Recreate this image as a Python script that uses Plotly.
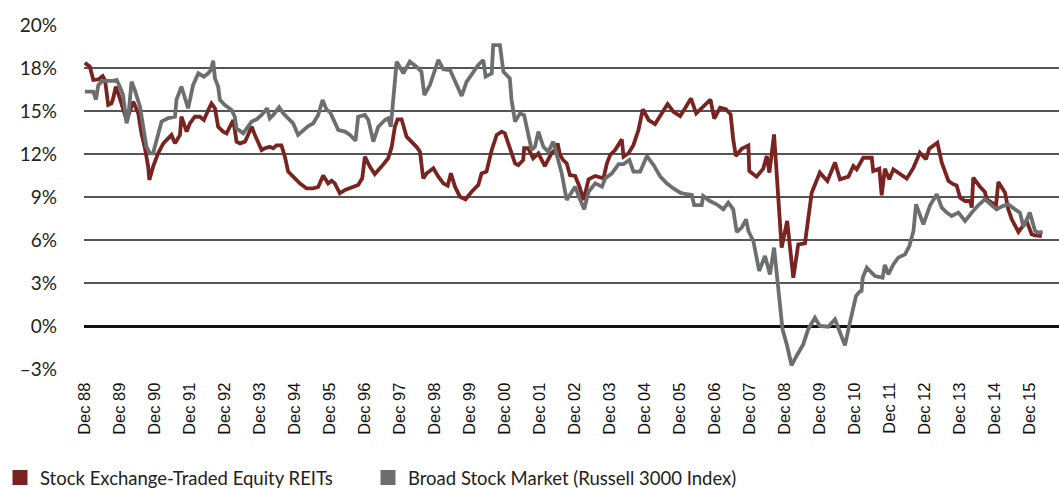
import plotly.graph_objects as go

# months since Dec 1988, and yield values (%)
reit_month = [0.0, 1.7, 2.9, 4.6, 6.1, 6.9, 8.0, 9.1, 9.7, 10.6, 11.8, 12.6, 14.3, 16.6, 18.3, 19.4, 20.6, 21.7, 22.1,
              23.4, 25.1, 26.9, 28.6, 29.7, 30.9, 32.6, 33.1, 34.9, 36.0, 37.7, 39.4, 40.8, 42.3, 43.4, 44.6, 45.7,
              47.4, 48.6, 49.7, 50.9, 52.0, 53.2, 54.9, 56.0, 57.2, 58.3, 60.6, 61.7, 63.4, 64.6, 65.7, 67.4, 68.6,
              69.7, 71.4, 73.7, 76.0, 78.3, 80.0, 81.7, 83.4, 84.6, 85.7, 87.4, 89.2, 91.4, 93.7, 95.1, 96.0, 97.7,
              99.4, 101.7, 104.0, 105.2, 106.3, 107.2, 108.6, 110.3, 112.0, 113.7, 114.9, 116.0, 117.2, 119.5, 121.2,
              122.9, 124.4, 125.5, 126.9, 128.6, 130.5, 132.6, 134.9, 136.0, 137.7, 139.5, 141.2, 142.9, 144.0, 145.7,
              147.5, 148.6, 150.3, 150.6, 152.0, 153.7, 155.5, 157.7, 160.0, 161.2, 162.1, 162.9, 164.0, 165.2, 166.3,
              168.1, 169.6, 171.0, 172.7, 175.0, 177.8, 179.0, 180.1, 181.8, 184.1, 184.7, 186.4, 188.1, 189.8, 191.3,
              193.3, 195.5, 197.5, 199.8, 201.8, 204.1, 205.8, 207.8, 209.6, 211.6, 213.0, 214.5, 215.8, 217.8, 219.8,
              221.4, 222.3, 223.2, 225.2, 227.5, 227.8, 230.3, 232.6, 233.8, 234.7, 236.3, 238.9, 240.8, 242.9, 244.6,
              246.9, 248.0, 249.2, 252.0, 254.6, 257.2, 258.9, 261.8, 263.5, 264.6, 266.9, 269.8, 270.3, 272.4, 273.2,
              274.3, 275.8, 277.2, 279.5, 281.8, 284.1, 286.3, 288.4, 289.5, 292.3, 293.8, 296.1, 297.8, 298.9, 300.1,
              301.8, 303.5, 304.1, 304.6, 306.9, 308.6, 309.2, 310.9, 312.4, 313.2, 315.5, 316.6, 317.8, 320.1, 321.2,
              322.9, 324.6, 325.8, 328.1]
reit_yield = [18.37, 18.09, 17.16, 17.2, 17.44, 17.16, 15.42, 15.53, 15.88, 16.7, 16.0, 15.53, 14.37, 15.65, 14.84,
              13.44, 12.4, 11.12, 10.19, 11.12, 12.05, 12.74, 13.09, 13.33, 12.74, 13.33, 14.6, 13.56, 14.14, 14.6,
              14.6, 14.37, 15.07, 15.53, 15.19, 13.9, 13.56, 13.44, 13.9, 14.37, 12.86, 12.74, 12.86, 13.44, 13.9,
              13.33, 12.28, 12.4, 12.5, 12.4, 12.6, 12.6, 11.8, 10.77, 10.4, 9.95, 9.6, 9.6, 9.7, 10.5, 9.95, 10.14,
              9.95, 9.26, 9.49, 9.67, 9.84, 10.3, 11.81, 11.12, 10.6, 11.12, 11.7, 12.5, 13.9, 14.42, 14.42, 13.21,
              12.86, 12.5, 12.16, 10.3, 10.65, 11.0, 10.42, 9.95, 9.79, 10.65, 9.72, 9.02, 8.84, 9.37, 9.84, 10.65,
              10.77, 12.28, 13.33, 13.56, 13.44, 12.4, 11.35, 11.23, 11.58, 12.4, 12.4, 11.7, 12.05, 11.16, 12.05,
              12.28, 12.74, 11.93, 11.58, 11.35, 10.53, 10.47, 9.72, 8.79, 10.23, 10.47, 10.3, 11.35, 11.93, 12.28,
              13.02, 11.81, 12.05, 12.63, 13.67, 15.12, 14.37, 14.09, 14.72, 15.49, 14.95, 14.65, 15.19, 15.88, 14.84,
              15.26, 15.55, 15.8, 14.47, 15.23, 15.12, 14.77, 13.02, 11.86, 12.37, 12.6, 10.81, 10.42, 10.98, 11.86,
              10.7, 13.37, 5.47, 7.33, 3.37, 5.7, 5.77, 7.67, 9.3, 10.7, 10.12, 11.4, 10.23, 10.42, 11.16, 10.93,
              11.74, 11.74, 10.81, 10.98, 9.12, 10.98, 10.23, 10.93, 10.58, 10.28, 11.05, 12.09, 11.63, 12.37, 12.79,
              11.4, 10.12, 9.88, 9.81, 8.95, 8.72, 8.72, 8.26, 10.35, 9.72, 9.35, 8.84, 8.65, 8.42, 10.05, 9.3, 8.14,
              7.44, 6.56, 6.86, 7.33, 6.4, 6.33, 6.28]

russell_month = [0.0, 2.9, 3.8, 4.6, 5.7, 7.4, 9.7, 10.9, 12.0, 13.1, 14.3, 14.9, 16.0, 17.1, 18.9, 20.0, 21.1, 22.3,
                 23.4, 24.6, 26.3, 28.6, 30.9, 31.4, 33.1, 35.4, 37.1, 38.9, 40.8, 42.3, 43.2, 44.0, 44.6, 45.7, 46.3,
                 48.0, 50.3, 51.4, 52.0, 54.3, 55.4, 57.2, 58.9, 60.6, 62.5, 63.4, 64.6, 66.6, 68.0, 69.7, 71.4, 73.1,
                 74.9, 76.6, 78.3, 80.0, 81.5, 82.9, 84.0, 86.9, 89.2, 90.9, 92.8, 93.7, 96.0, 97.2, 98.9, 100.6, 102.9,
                 104.0, 104.9, 105.7, 106.9, 109.2, 111.4, 113.7, 115.4, 116.4, 118.3, 121.2, 122.9, 125.2, 126.9,
                 129.2, 130.9, 133.2, 134.9, 136.6, 137.4, 139.5, 140.0, 142.3, 143.5, 145.7, 146.3, 147.5, 149.2,
                 150.6, 152.0, 153.2, 154.3, 155.5, 157.2, 158.9, 160.6, 161.7, 163.5, 165.2, 166.9, 168.1, 169.6,
                 171.2, 172.7, 175.0, 177.3, 178.4, 180.7, 183.0, 184.7, 186.7, 188.1, 190.4, 192.7, 195.0, 197.3,
                 199.5, 201.8, 204.1, 205.8, 208.1, 208.9, 211.5, 212.0, 214.3, 216.6, 218.9, 220.6, 222.3, 223.5,
                 225.2, 226.7, 227.5, 229.2, 231.2, 233.2, 234.9, 236.3, 237.8, 239.2, 240.8, 242.3, 244.0, 246.3,
                 248.0, 250.3, 252.0, 254.9, 257.2, 258.9, 260.6, 262.3, 264.4, 265.5, 266.3, 266.7, 268.1, 270.9,
                 273.5, 274.3, 275.5, 277.2, 278.9, 281.2, 282.7, 284.1, 285.0, 287.5, 289.8, 292.1, 293.8, 295.5,
                 297.2, 299.5, 301.8, 304.1, 306.3, 308.6, 310.9, 312.6, 314.3, 316.6, 318.9, 320.6, 321.8, 324.0,
                 325.8, 326.9, 328.4]
russell_yield = [16.35, 16.35, 15.8, 16.8, 17.05, 17.1, 17.1, 17.16, 16.7, 16.1, 14.14, 14.6, 17.05, 16.47, 15.3,
                 13.67, 12.5, 12.05, 12.05, 12.98, 14.26, 14.5, 14.6, 15.77, 16.7, 15.19, 16.8, 17.63, 17.4, 17.63,
                 17.86, 18.51, 17.28, 16.7, 15.77, 15.42, 15.07, 14.6, 13.79, 13.44, 13.79, 14.26, 14.42, 14.72, 15.19,
                 14.49, 14.72, 15.26, 14.84, 14.49, 14.14, 13.33, 13.67, 13.95, 14.14, 14.72, 15.77, 15.07, 14.95,
                 13.67, 13.56, 13.33, 12.93, 14.6, 14.72, 14.37, 12.86, 13.9, 14.37, 14.49, 13.9, 15.65, 18.44, 17.63,
                 18.44, 18.09, 17.74, 16.12, 16.81, 18.56, 17.91, 17.86, 17.05, 16.05, 17.05, 17.74, 18.21, 18.56,
                 17.4, 17.63, 19.6, 19.6, 17.74, 17.28, 15.77, 14.26, 14.84, 14.72, 13.44, 12.28, 12.5, 13.56, 12.5,
                 12.16, 12.86, 12.05, 10.65, 8.79, 9.37, 9.72, 8.91, 8.14, 9.37, 9.95, 9.72, 10.3, 10.65, 11.3, 11.3,
                 11.58, 10.77, 10.77, 11.86, 11.23, 10.42, 9.95, 9.6, 9.3, 9.21, 9.14, 8.44, 8.44, 9.07, 8.72, 8.49,
                 8.14, 8.6, 8.14, 6.56, 6.86, 7.44, 6.63, 5.93, 3.84, 4.88, 3.6, 5.47, 2.79, -0.23, -1.4, -2.74,
                 -2.09, -1.28, -0.23, 0.58, 0.0, -0.05, 0.47, -0.47, -1.35, 0.23, 2.09, 2.37, 2.44, 3.37, 4.07, 3.49,
                 3.37, 4.26, 3.6, 4.3, 4.77, 5.0, 5.58, 6.63, 8.49, 7.09, 8.42, 9.19, 8.26, 7.91, 7.67, 7.91, 7.33,
                 7.91, 8.42, 8.84, 8.42, 8.14, 8.33, 8.49, 8.14, 7.91, 6.93, 7.91, 6.63, 6.51, 6.56]

series_names = ["Stock Exchange-Traded Equity REITs", "Broad Stock Market (Russell 3000 Index)"]
series_colors = ["#7A2421", "#6D6E6E"]

tick_years = list(range(1988, 2016))
tick_months = [12 * (y - 1988) for y in tick_years]
tick_labels = [f"Dec {y % 100:02d}" for y in tick_years]

y_tickvals = [-3, 0, 3, 6, 9, 12, 15, 18, 21]
y_ticktext = ["\u20133%", "0%", "3%", "6%", "9%", "12%", "15%", "18%", "20%"]

fig = go.Figure()
fig.add_trace(go.Scatter(x=reit_month, y=reit_yield, mode="lines", showlegend=False,
                         line=dict(color=series_colors[0], width=3.8), name=series_names[0]))
fig.add_trace(go.Scatter(x=russell_month, y=russell_yield, mode="lines", showlegend=False,
                         line=dict(color=series_colors[1], width=3.8), name=series_names[1]))
for name, color in zip(series_names, series_colors):
    fig.add_trace(go.Scatter(x=[None], y=[None], mode="markers", name=name,
                             marker=dict(symbol="square", size=15, color=color)))

fig.update_layout(
    width=1059, height=490,
    margin=dict(l=84, r=0, t=25, b=121, autoexpand=False),
    plot_bgcolor="white", paper_bgcolor="white",
    legend=dict(orientation="h", xref="container", yref="container", x=0.0, y=1 - 459 / 490,
                xanchor="left", yanchor="top", font=dict(family="Lato", size=18.5, color="#222"),
                entrywidth=323, itemsizing="trace", bgcolor="rgba(0,0,0,0)"),
)
fig.update_xaxes(range=[-0.3, 334], tickmode="array", tickvals=tick_months, ticktext=tick_labels,
                 tickangle=-90, tickfont=dict(family="Liberation Sans", size=16.5, color="#111"),
                 showgrid=False, zeroline=False, showline=False, ticks="outside", ticklen=6,
                 tickcolor="rgba(0,0,0,0)", automargin=False)
fig.update_yaxes(range=[-3, 21], tickmode="array", tickvals=y_tickvals, ticktext=y_ticktext,
                 tickfont=dict(family="Lato", size=19, color="#222"), showgrid=True, gridcolor="#555",
                 gridwidth=1.5, zeroline=True, zerolinecolor="#111", zerolinewidth=2.5, showline=False,
                 ticklabelstandoff=26, automargin=False)

fig.write_html("out.html", config={"displayModeBar": False},
               post_script="document.body.style.margin='0';")
